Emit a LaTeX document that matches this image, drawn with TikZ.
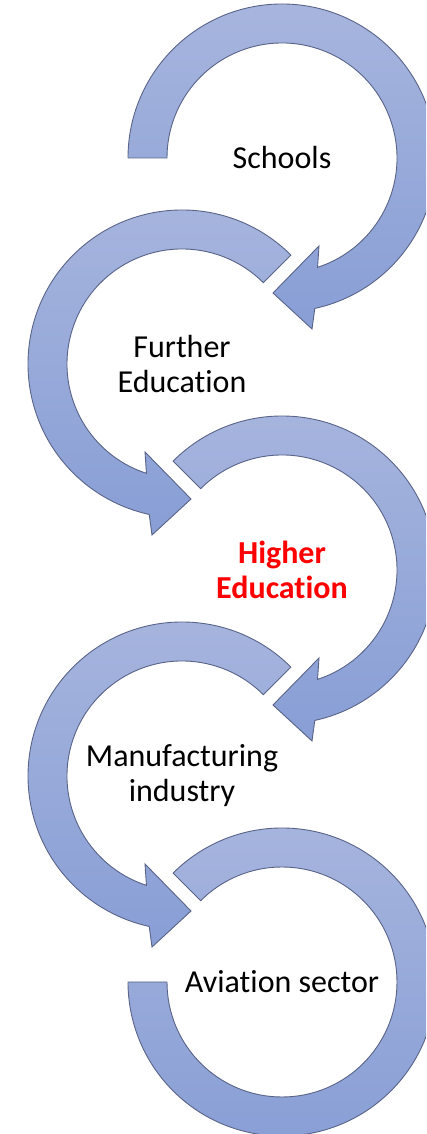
\documentclass[tikz,border=0pt]{standalone}
\usepackage{fontspec}
\setmainfont[Ligatures=NoCommon]{Carlito}
\usepackage{tikz}
\usetikzlibrary{calc}
\definecolor{arrowtop}{RGB}{167,181,222}
\definecolor{arrowbot}{RGB}{136,158,213}
\definecolor{arrowline}{RGB}{90,100,136}
\tikzstyle{band}=[draw=arrowline,line width=0.9pt,top color=arrowtop,bottom color=arrowbot]
\tikzstyle{stage}=[align=center,inner sep=0mm,font=\fontsize{32}{35}\selectfont]
\tikzstyle{current}=[stage,text=red,font=\fontsize{32}{35}\selectfont\bfseries]
% clockwise arrow round centre #1, tail at angle #2, head pointing left
\newcommand \cwarrow [2] {
  \draw[band] (#1) ++(#2:154) arc[start angle=#2, end angle=-77.7, radius=154]
    -- ($(#1)+(30,-171)$) -- ($(#1)+(-9,-135)$) -- ($(#1)+(37,-88)$)
    -- ($(#1)+(-72:115)$) arc[start angle=-72, end angle=#2, radius=115] -- cycle;
}
% counterclockwise arrow round centre #1, tail at angle #2, head pointing right
\newcommand \ccwarrow [2] {
  \draw[band] (#1) ++(#2:154) arc[start angle=#2, end angle=257.7, radius=154]
    -- ($(#1)+(-30,-171)$) -- ($(#1)+(9,-135)$) -- ($(#1)+(-37,-88)$)
    -- ($(#1)+(252:115)$) arc[start angle=252, end angle=#2, radius=115] -- cycle;
}

\begin{document}
\begin{tikzpicture}[x=1pt,y=1pt]
      \useasboundingbox (0,0) rectangle (426,1134);
      \clip (0,0) rectangle (426,1134);
      \coordinate (c1) at (282,976);
      \coordinate (c2) at (182,770);
      \coordinate (c3) at (282,564);
      \coordinate (c4) at (182,358);
      \coordinate (c5) at (282,152);
      \cwarrow{c1}{180}
      \ccwarrow{c2}{45}
      \cwarrow{c3}{135}
      \ccwarrow{c4}{45}
      % last stage: open ring, no head
      \draw[band] (c5) ++(135:154) arc[start angle=135, end angle=-180, radius=154]
        -- ($(c5)+(180:115)$) arc[start angle=-180, end angle=135, radius=115] -- cycle;
      \node[stage] at (c1) (schools) {Schools};
      \node[stage] at (c2) (further) {Further\\Education};
      \node[current] at (c3) (higher) {Higher\\Education};
      \node[stage] at (c4) (manufact) {Manufacturing\\industry};
      \node[stage] at (c5) (aviation) {Aviation sector};
\end{tikzpicture}
\end{document}
